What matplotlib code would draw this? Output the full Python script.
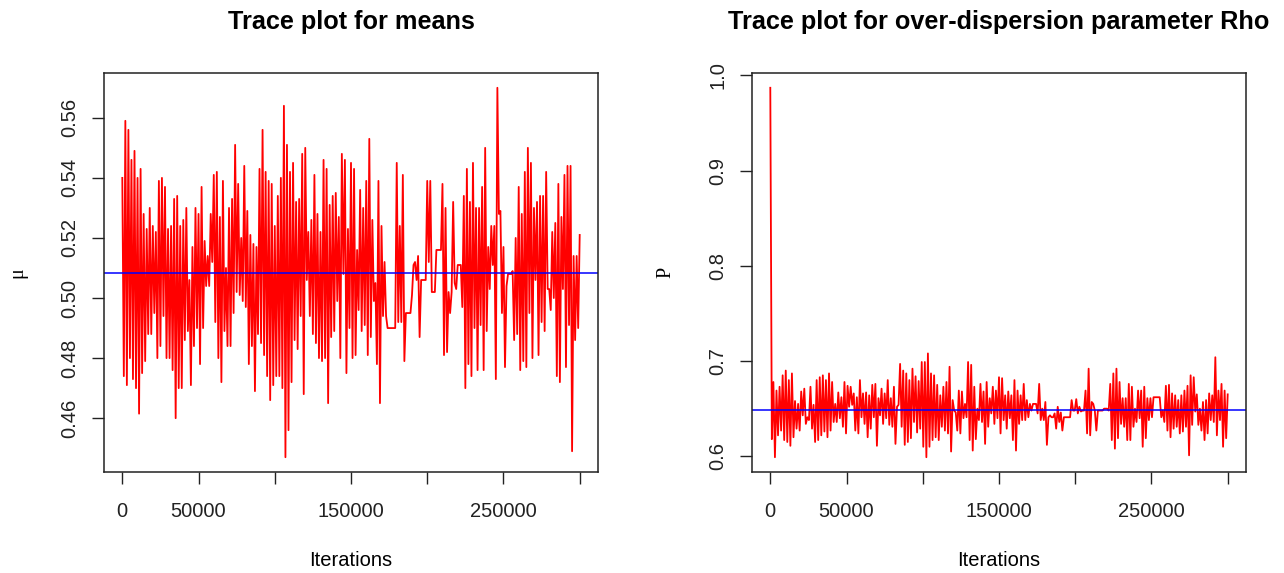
import numpy as np
from matplotlib import pyplot as plt

# MCMC traces (thinned chain, ~2000 iterations per value pair)
mu_trace = [
    0.540, 0.474, 0.559, 0.471, 0.556, 0.480, 0.546, 0.473, 0.549, 0.470,
    0.540, 0.4615, 0.543, 0.475, 0.528, 0.479, 0.523, 0.488, 0.530, 0.488,
    0.524, 0.495, 0.522, 0.480, 0.539, 0.484, 0.540, 0.494, 0.537, 0.480,
    0.523, 0.480, 0.524, 0.476, 0.533, 0.460, 0.534, 0.470, 0.524, 0.470,
    0.526, 0.486, 0.530, 0.489, 0.506, 0.471, 0.517, 0.484, 0.530, 0.490,
    0.528, 0.478, 0.537, 0.490, 0.519, 0.504, 0.514, 0.504, 0.528, 0.512,
    0.541, 0.492, 0.542, 0.480, 0.527, 0.472, 0.539, 0.489, 0.510, 0.484,
    0.530, 0.484, 0.533, 0.495, 0.551, 0.502, 0.538, 0.501, 0.520, 0.499,
    0.544, 0.497, 0.529, 0.478, 0.521, 0.484, 0.518, 0.469, 0.517, 0.488,
    0.543, 0.485, 0.556, 0.481, 0.542, 0.474, 0.539, 0.466, 0.538, 0.471,
    0.524, 0.474,
    0.534, 0.474, 0.540, 0.470, 0.564, 0.447, 0.551, 0.456, 0.542, 0.472,
    0.545, 0.486, 0.532, 0.483, 0.533, 0.494, 0.548, 0.468, 0.550, 0.506,
    0.522, 0.494, 0.526, 0.488, 0.541, 0.485, 0.528, 0.480, 0.522, 0.479,
    0.546, 0.480, 0.543, 0.465, 0.531, 0.487, 0.534, 0.489, 0.535, 0.499,
    0.527, 0.480, 0.548, 0.508, 0.546, 0.475, 0.523, 0.490, 0.545, 0.480,
    0.543, 0.481, 0.516, 0.496, 0.536, 0.489, 0.530, 0.491, 0.539, 0.481,
    0.553, 0.487, 0.526, 0.499, 0.505, 0.478, 0.539, 0.465, 0.524, 0.494,
    0.512, 0.494, 0.490, 0.490, 0.490, 0.490, 0.490, 0.490, 0.545, 0.492,
    0.524, 0.492, 0.541, 0.479, 0.495, 0.495, 0.495, 0.495, 0.501, 0.511,
    0.512, 0.506, 0.514, 0.487, 0.506, 0.506, 0.506, 0.506, 0.539, 0.512,
    0.539, 0.502, 0.502, 0.502, 0.516, 0.516, 0.516, 0.516, 0.538, 0.481,
    0.530, 0.482, 0.502, 0.495, 0.502, 0.532, 0.505, 0.503, 0.511, 0.511,
    0.511, 0.497, 0.534, 0.470, 0.543, 0.478, 0.532, 0.474, 0.545, 0.490,
    0.530, 0.476, 0.530, 0.491, 0.537, 0.476, 0.550, 0.489, 0.517, 0.503,
    0.524, 0.511, 0.524, 0.473, 0.570, 0.528, 0.529, 0.495, 0.517, 0.477,
    0.504, 0.508, 0.508, 0.508, 0.509, 0.486, 0.520, 0.488, 0.537, 0.476,
    0.528, 0.479, 0.542, 0.477, 0.550, 0.495, 0.545, 0.480, 0.530, 0.506,
    0.532, 0.481, 0.534, 0.492, 0.534, 0.489, 0.542, 0.503, 0.503, 0.496,
    0.522, 0.500, 0.525, 0.474, 0.538, 0.472, 0.527, 0.503, 0.541, 0.477,
    0.544, 0.491, 0.544, 0.449, 0.514, 0.486, 0.514, 0.490, 0.521,
]

rho_trace = [
    0.987,
    0.618, 0.678, 0.599, 0.669, 0.622, 0.673, 0.627, 0.685, 0.617, 0.690,
    0.615, 0.680, 0.611, 0.687, 0.620, 0.658, 0.629, 0.655, 0.627, 0.668,
    0.643, 0.671, 0.634, 0.641, 0.638, 0.673, 0.629, 0.654, 0.615, 0.680,
    0.617, 0.683, 0.622, 0.685, 0.626, 0.680, 0.620, 0.687, 0.627, 0.678,
    0.636, 0.655, 0.636, 0.667, 0.640, 0.662, 0.631, 0.678, 0.624, 0.674,
    0.652, 0.673, 0.654, 0.666, 0.627, 0.662, 0.624, 0.680, 0.641, 0.666,
    0.634, 0.667, 0.620, 0.664, 0.629, 0.675, 0.641, 0.676, 0.611, 0.661,
    0.643, 0.671, 0.634, 0.666, 0.640, 0.680, 0.633, 0.661, 0.631, 0.673,
    0.613, 0.652, 0.654, 0.697, 0.631, 0.690, 0.612, 0.687, 0.615, 0.680,
    0.619, 0.692, 0.636, 0.684, 0.625, 0.679, 0.629,
    0.699, 0.610, 0.699, 0.599, 0.708, 0.610, 0.687, 0.617, 0.685, 0.620,
    0.675, 0.617, 0.664, 0.631, 0.673, 0.627, 0.678, 0.624, 0.694, 0.605,
    0.659, 0.648, 0.646, 0.627, 0.669, 0.624, 0.668, 0.640, 0.655, 0.641,
    0.699, 0.617, 0.696, 0.606, 0.673, 0.618, 0.650, 0.638, 0.676, 0.636,
    0.668, 0.613, 0.678, 0.631, 0.661, 0.645, 0.673, 0.634, 0.669, 0.640,
    0.683, 0.624, 0.682, 0.638, 0.664, 0.629, 0.668, 0.640, 0.664, 0.617,
    0.680, 0.606, 0.669, 0.634, 0.664, 0.638, 0.676, 0.638, 0.659, 0.641,
    0.655, 0.648, 0.655, 0.655, 0.655, 0.645, 0.676, 0.638, 0.650, 0.638,
    0.657, 0.612, 0.641, 0.643, 0.641, 0.641, 0.645, 0.629, 0.652, 0.636,
    0.646, 0.627, 0.641, 0.641, 0.641, 0.641, 0.641, 0.659, 0.648, 0.648,
    0.660, 0.645, 0.652, 0.647, 0.648, 0.648, 0.669, 0.624, 0.692, 0.622,
    0.657, 0.655, 0.648, 0.627, 0.648, 0.648, 0.648, 0.648, 0.650, 0.650,
    0.650, 0.648, 0.676, 0.617, 0.687, 0.608, 0.692, 0.619, 0.678, 0.634,
    0.661, 0.631, 0.661, 0.617, 0.676, 0.617, 0.673, 0.631, 0.650, 0.636,
    0.669, 0.640, 0.669, 0.610, 0.673, 0.619, 0.661, 0.638, 0.661, 0.641,
    0.662, 0.662, 0.662, 0.662, 0.662, 0.641, 0.648, 0.636, 0.674, 0.627,
    0.675, 0.620, 0.666, 0.629, 0.664, 0.631, 0.659, 0.624, 0.664, 0.626,
    0.669, 0.631, 0.674, 0.601, 0.685, 0.633, 0.683, 0.647, 0.665, 0.633,
    0.650, 0.627, 0.657, 0.617, 0.659, 0.624, 0.666, 0.638, 0.664, 0.636,
    0.704, 0.622, 0.669, 0.638, 0.676, 0.610, 0.669, 0.619, 0.665,
]

mu_mean = 0.5083
rho_mean = 0.6483
n_iter = 300000

x_ticks = [0, 50000, 100000, 150000, 200000, 250000, 300000]
x_ticklabels = ["0", "50000", "", "150000", "", "250000", ""]
mu_ticks = [0.46, 0.48, 0.50, 0.52, 0.54, 0.56]
mu_ticklabels = ["0.46", "0.48", "0.50", "0.52", "0.54", "0.56"]
rho_ticks = [0.6, 0.7, 0.8, 0.9, 1.0]
rho_ticklabels = ["0.6", "0.7", "0.8", "0.9", "1.0"]

plt.rcParams['font.family'] = ['Liberation Sans', 'DejaVu Sans']
fs = 14.5

fig = plt.figure(figsize=(12.84, 5.73), dpi=100)
ax1 = fig.add_axes([104 / 1284, 1 - 472 / 573, 494 / 1284, 399 / 573])
ax2 = fig.add_axes([752 / 1284, 1 - 472 / 573, 494 / 1284, 399 / 573])

panels = [
    (ax1, mu_trace, mu_mean, mu_ticks, mu_ticklabels, "Trace plot for means", "\u03bc"),
    (ax2, rho_trace, rho_mean, rho_ticks, rho_ticklabels,
     "Trace plot for over-dispersion parameter Rho", "P"),
]

for ax, trace, mean, yt, ytl, title, ylab in panels:
    iters = np.linspace(1, n_iter, len(trace))
    ax.plot(iters, trace, color='red', lw=1.3)
    ax.axhline(mean, color='blue', lw=1.1)
    ax.margins(x=0.04, y=0.04)
    ax.set_xticks(x_ticks)
    ax.set_xticklabels(x_ticklabels)
    ax.set_yticks(yt)
    ax.set_yticklabels(ytl, rotation=90, va='center')
    ax.tick_params(direction='out', length=8.5, width=1, labelsize=fs, colors='#222222')
    ax.tick_params(axis='x', pad=13)
    ax.tick_params(axis='y', pad=9)
    for s in ax.spines.values():
        s.set_linewidth(1.1)
        s.set_color('#222222')
    bb = ax.get_position()
    cx = (bb.x0 + bb.x1) / 2
    fig.text(cx, 1 - 22 / 573, title, ha='center', va='center',
             fontsize=18.2, fontweight='bold')
    fig.text(cx, 1 - 561 / 573, "Iterations", ha='center', va='center', fontsize=fs)
    fig.text(bb.x0 - 86 / 1284, (bb.y0 + bb.y1) / 2, ylab, rotation=90,
             ha='center', va='center', fontsize=fs, family='Liberation Serif')

fig.savefig('out.png', dpi=100)
